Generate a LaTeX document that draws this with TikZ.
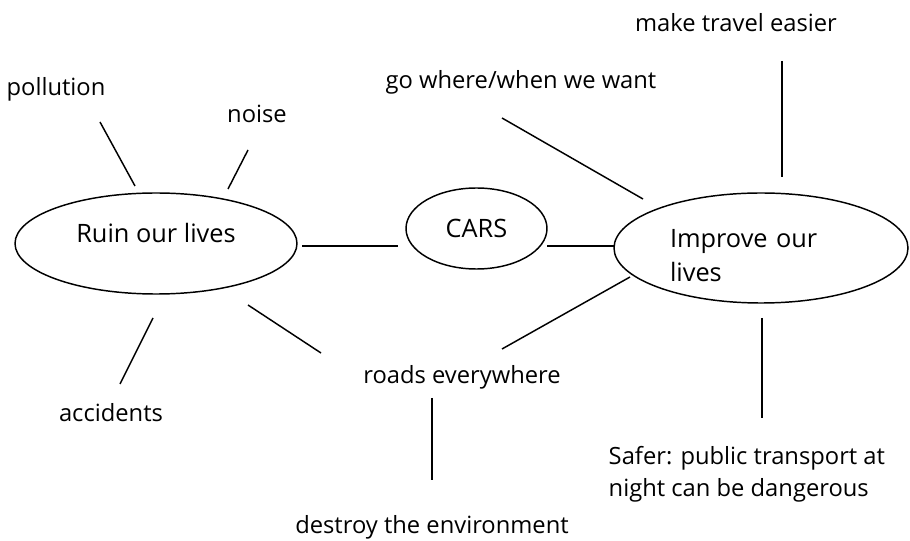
\documentclass[tikz,border=0pt]{standalone}
\usepackage{fontspec}
\setmainfont{Open Sans}
\usetikzlibrary{shapes.geometric}
\tikzset{every picture/.append style={x=0.75pt, y=-0.75pt, line width=1.1pt}}
\tikzset{
    topic/.style={ellipse, draw, inner sep=0pt,
    	font=\fontsize{19}{25.5}\selectfont},
    idea/.style={inner sep=0pt, font=\fontsize{17.8}{24}\selectfont}
}

\begin{document}
\begin{tikzpicture}
  \useasboundingbox (0,0) rectangle (910,541);
  \node (ruin) [topic, minimum width=211.5pt, minimum height=75.75pt,
  	text height=14pt, text depth=16pt] at (156,243.5) {Ruin our lives};
  \node (cars) [topic, minimum width=105.75pt, minimum height=60.75pt] at (476.5,228.5) {CARS};
  \node (improve) [topic, minimum width=220.5pt, minimum height=82.5pt,
  	text width=136.5pt, align=left, text height=24.5pt, text depth=25.5pt] at (761,248) {Improve our\\lives};
  \node (pollution) [idea] at (56,89) {pollution};
  \node (noise) [idea] at (257,114) {noise};
  \node (accidents) [idea] at (111,413) {accidents};
  \node (go) [idea] at (521,82) {go where/when we want};
  \node (easier) [idea] at (736,23) {make travel easier};
  \node (roads) [idea] at (462,377) {roads everywhere};
  \node (destroy) [idea] at (432,527) {destroy the environment};
  \node (safer) [idea, align=left, anchor=west] at (608,474) {Safer: public transport at\\night can be dangerous};

  % line ends, they stop short of the words
  \coordinate (pollution_e) at (100,122);
  \coordinate (ruin_p) at (135,186);
  \coordinate (noise_e) at (248,150);
  \coordinate (ruin_n) at (228,189);
  \coordinate (accidents_e) at (120,384);
  \coordinate (ruin_a) at (153,318);
  \coordinate (ruin_c) at (302,246);
  \coordinate (cars_r) at (398,246);
  \coordinate (cars_i) at (547,246);
  \coordinate (improve_c) at (614,246);
  \coordinate (go_e) at (502,118);
  \coordinate (improve_g) at (643,199);
  \coordinate (easier_e) at (782,61);
  \coordinate (improve_e) at (782,177);
  \coordinate (ruin_r) at (248,305);
  \coordinate (roads_r) at (321,353);
  \coordinate (roads_i) at (502,349);
  \coordinate (improve_r) at (630,277);
  \coordinate (roads_d) at (432,398);
  \coordinate (destroy_e) at (432,480);
  \coordinate (improve_s) at (762,318);
  \coordinate (safer_e) at (762,418);

  \draw (pollution_e) edge (ruin_p);
  \draw (noise_e) edge (ruin_n);
  \draw (ruin_a) edge (accidents_e);
  \draw (ruin_c) edge (cars_r);
  \draw (cars_i) edge (improve_c);
  \draw (go_e) edge (improve_g);
  \draw (easier_e) edge (improve_e);
  \draw (ruin_r) edge (roads_r);
  \draw (roads_i) edge (improve_r);
  \draw (roads_d) edge (destroy_e);
  \draw (improve_s) edge (safer_e);
\end{tikzpicture}
\end{document}
